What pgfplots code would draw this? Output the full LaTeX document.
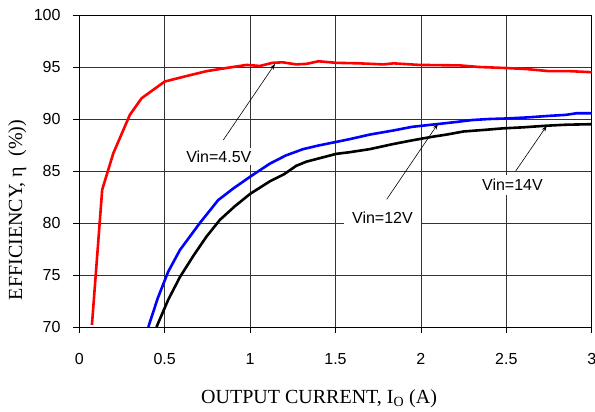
\documentclass[border=0pt]{standalone}
\usepackage{pgfplots}
\pgfplotsset{compat=1.18}
\usepackage{fontspec}
\setmainfont{Liberation Sans}
\newfontfamily\seriffont{Liberation Serif}
\usetikzlibrary{arrows.meta}
\begin{document}
\begin{tikzpicture}
\begin{axis}[
  name=ax,
  scale only axis,
  width=512.4pt, height=312pt,
  xmin=0, xmax=3, ymin=70, ymax=100,
  xtick={0,0.5,1,1.5,2,2.5,3},
  xticklabels={0,0.5,1,1.5,2,2.5,3},
  ytick={70,75,80,85,90,95,100},
  yticklabels={70,75,80,85,90,95,100},
  tick pos=left,
  tick align=outside,
  major tick length=6pt,
  tick style={black, line width=0.8pt},
  grid=major,
  major grid style={black!80, line width=0.8pt},
  axis line style={black, line width=0.8pt},
  ticklabel style={font=\fontsize{16}{19}\selectfont},
  xticklabel style={anchor=base, inner sep=0pt, yshift=-31.3pt},
  yticklabel style={anchor=east, inner sep=0pt, xshift=-12.6pt},
  clip=false,
]
% Vin=4.5V (red)
\addplot[red, line width=2.6pt, line join=round] coordinates {
(0.074,70.2) (0.134,83.2) (0.199,86.7) (0.296,90.4) (0.365,92.0) (0.50,93.6)
(0.62,94.1) (0.745,94.6) (0.84,94.85) (0.98,95.2) (1.057,95.1) (1.13,95.4)
(1.19,95.45) (1.27,95.25) (1.33,95.3) (1.40,95.55) (1.505,95.4) (1.64,95.35)
(1.78,95.25) (1.84,95.35) (1.99,95.2) (2.23,95.15) (2.34,95.0) (2.50,94.9)
(2.62,94.8) (2.75,94.6) (2.87,94.6) (3.0,94.5)
};
% Vin=12V (blue)
\addplot[blue, line width=2.6pt, line join=round] coordinates {
(0.404,70.0) (0.46,72.8) (0.52,75.3) (0.589,77.4) (0.706,80.0) (0.813,82.2)
(0.90,83.3) (1.0,84.45) (1.115,85.7) (1.21,86.5) (1.31,87.1) (1.40,87.45)
(1.505,87.8) (1.58,88.05) (1.70,88.5) (1.84,88.9) (1.95,89.25) (2.09,89.5)
(2.20,89.7) (2.30,89.9) (2.40,90.0) (2.50,90.05) (2.62,90.15) (2.75,90.3)
(2.85,90.4) (2.91,90.55) (3.0,90.55)
};
% Vin=14V (black)
\addplot[black, line width=2.6pt, line join=round] coordinates {
(0.452,70.0) (0.52,72.6) (0.589,74.8) (0.67,76.9) (0.745,78.7) (0.823,80.3)
(0.91,81.6) (1.0,82.8) (1.115,84.0) (1.20,84.7) (1.27,85.5) (1.33,85.9)
(1.40,86.2) (1.505,86.65) (1.58,86.8) (1.70,87.1) (1.84,87.6) (1.95,87.95)
(2.07,88.3) (2.15,88.5) (2.25,88.8) (2.37,88.95) (2.48,89.1) (2.60,89.2)
(2.73,89.35) (2.85,89.45) (3.0,89.5)
};
% annotations
\draw[-{Stealth[length=6pt,width=4pt]}, line width=0.6pt] (axis cs:0.843,87.98) -- (axis cs:1.146,95.3);
\draw[-{Stealth[length=6pt,width=4pt]}, line width=0.6pt] (axis cs:1.80,82.28) -- (axis cs:2.10,89.55);
\draw[-{Stealth[length=6pt,width=4pt]}, line width=0.6pt] (axis cs:2.555,85.0) -- (axis cs:2.737,89.35);
\node[fill=white, anchor=base, inner xsep=3pt, inner ysep=3pt, font=\fontsize{16}{19}\selectfont] at (axis cs:0.817,85.84) {Vin=4.5V};
\node[fill=white, anchor=base, inner xsep=8pt, inner ysep=4pt, font=\fontsize{16}{19}\selectfont] at (axis cs:1.775,79.97) {Vin=12V};
\node[fill=white, anchor=base, inner xsep=4pt, inner ysep=4pt, font=\fontsize{16}{19}\selectfont] at (axis cs:2.536,83.1) {Vin=14V};
% axis labels
\node[anchor=center, rotate=90, inner sep=0pt] at ([xshift=-62pt]rel axis cs:0,0.375)
  {\seriffont\fontsize{20}{24}\selectfont EFFICIENCY, η\ \ (\%))};
\node[anchor=base, inner sep=0pt] at ([yshift=-76.3pt]rel axis cs:0.468,0)
  {\seriffont\fontsize{20}{24}\selectfont OUTPUT CURRENT, I\textsubscript{O} (A)};
\end{axis}
\pgfresetboundingbox
\path ([xshift=-79.3pt,yshift=-84pt]ax.south west) rectangle ([xshift=3.3pt,yshift=15pt]ax.north east);
\end{tikzpicture}
\end{document}
